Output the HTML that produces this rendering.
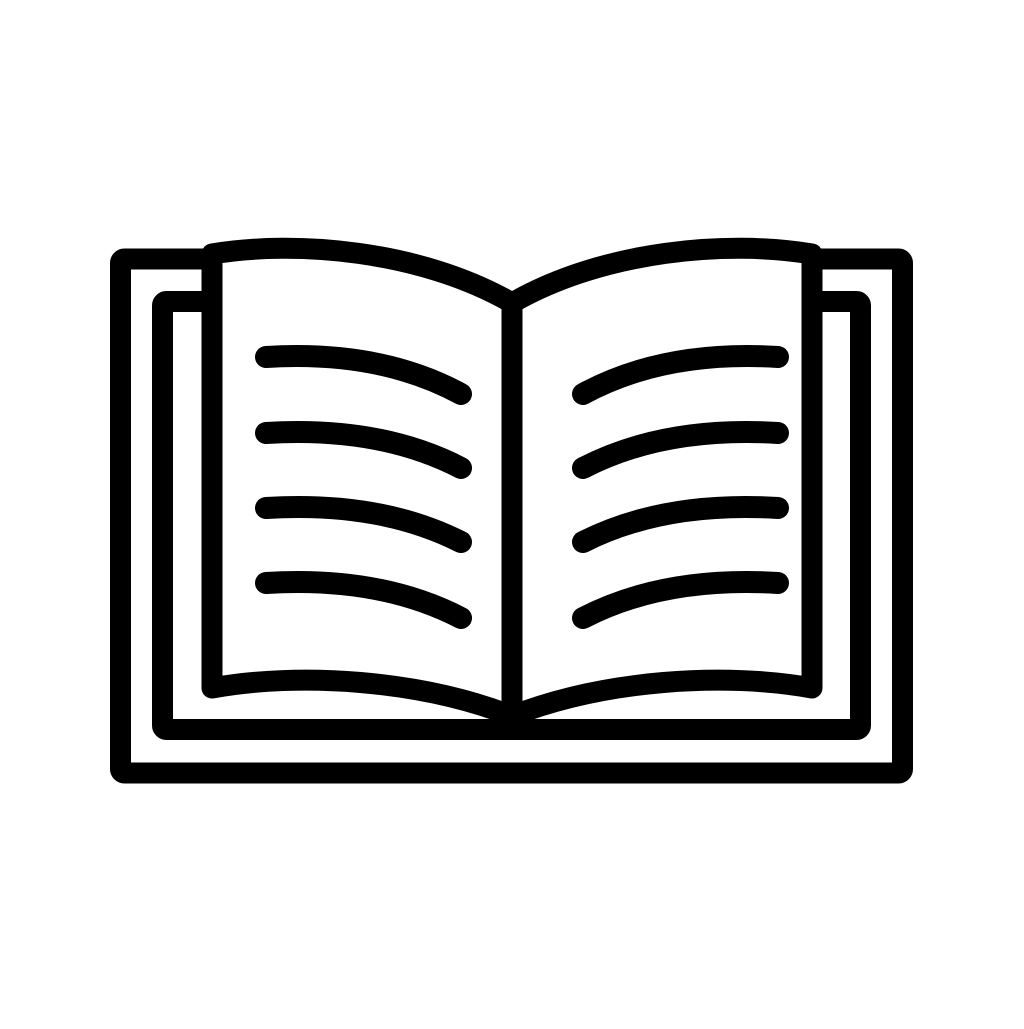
<!DOCTYPE html>
<html><head><style>html,body{margin:0;padding:0;background:#fff}</style></head>
<body>
<svg width="1024" height="1024" viewBox="0 0 1024 1024" xmlns="http://www.w3.org/2000/svg">
<rect width="1024" height="1024" fill="#fff"/>
<g fill="none" stroke="#000" stroke-width="21" stroke-linejoin="round" stroke-linecap="round">
<rect x="120.5" y="259" width="782" height="514" rx="4"/>
<rect x="162.5" y="301.5" width="698" height="428" rx="4"/>
<rect x="222" y="240" width="580" height="40" fill="#fff" stroke="none"/>
<path d="M212,254 C295,240 420,250 512,303 C604,250 729,240 812,254 L812,688 C724,672 604,680 512,716 C420,680 300,672 212,688 Z" fill="#fff"/>
<line x1="512" y1="303" x2="512" y2="716"/>
<g stroke-width="22">
<path d="M266,357 Q380,350 461,394"/>
<path d="M266,433 Q380,426 461,468"/>
<path d="M266,508 Q380,501 461,542"/>
<path d="M266,583 Q380,576 461,618"/>
<path d="M778,357 Q664,350 583,394"/>
<path d="M778,433 Q664,426 583,468"/>
<path d="M778,508 Q664,501 583,542"/>
<path d="M778,583 Q664,576 583,618"/>
</g>
</g>
</svg>
</body></html>
